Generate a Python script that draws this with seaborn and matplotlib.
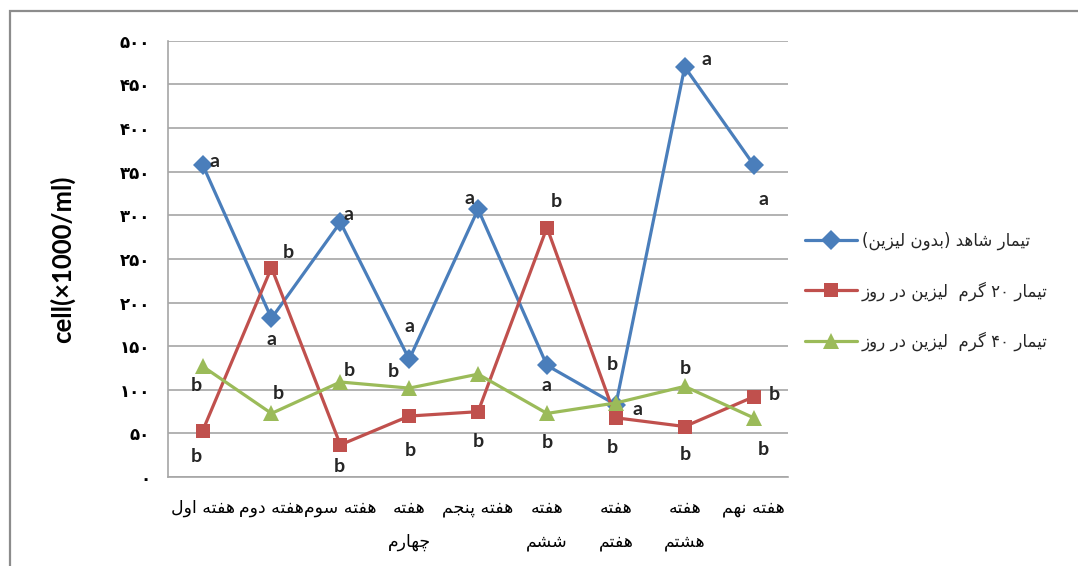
import re
import matplotlib
matplotlib.use('Agg')
import matplotlib.pyplot as plt
import seaborn as sns
import pandas as pd
from matplotlib.patches import Rectangle
from matplotlib.ticker import FixedLocator

# داده ها
weeks = ['هفته اول', 'هفته دوم', 'هفته سوم', 'هفته\nچهارم', 'هفته پنجم',
         'هفته\nششم', 'هفته\nهفتم', 'هفته\nهشتم', 'هفته نهم']
series_names = ['تیمار شاهد (بدون لیزین)',
                'تیمار ۲۰ گرم  لیزین در روز',
                'تیمار ۴۰ گرم  لیزین در روز']
control = [358, 182, 292, 135, 307, 128, 83, 470, 358]
lys20 = [53, 240, 37, 70, 75, 286, 68, 58, 92]
lys40 = [127, 73, 109, 102, 118, 73, 85, 104, 68]
letters_control = ['a', 'a', 'a', 'a', 'a', 'a', 'a', 'a', 'a']
letters_20 = ['b', 'b', 'b', 'b', 'b', 'b', 'b', 'b', 'b']
letters_40 = ['b', 'b', 'b', 'b', '', 'b', 'b', 'b', 'b']
y_ticks = [0, 50, 100, 150, 200, 250, 300, 350, 400, 450, 500]

# جای حروف نسبت به نقطه (پیکسل)
off_control = [(12, 3), (0, -21), (8, 8), (0, 33), (-9, 11), (0, -20), (22, -5), (22, 7), (10, -35)]
off_20 = [(-6, -26), (17, 15), (-1, -22), (1, -34), (0, -30), (9, 26), (-4, -30), (1, -28), (21, 2)]
off_40 = [(-6, -19), (7, 20), (9, 12), (-16, 17), (0, 0), (0, -29), (-4, 38), (1, 18), (10, -32)]

colors = ['#4A7EBB', '#C0504D', '#9BBB59']
markers = ['D', 's', '^']
msizes = [10, 10.5, 11.5]

# شکل دادن حروف فارسی (matplotlib خودش این کار را نمی کند)
DUAL = {
    'ب': (0xFE8F, 0xFE90, 0xFE91, 0xFE92), 'ت': (0xFE95, 0xFE96, 0xFE97, 0xFE98),
    'ج': (0xFE9D, 0xFE9E, 0xFE9F, 0xFEA0), 'س': (0xFEB1, 0xFEB2, 0xFEB3, 0xFEB4),
    'ش': (0xFEB5, 0xFEB6, 0xFEB7, 0xFEB8), 'ف': (0xFED1, 0xFED2, 0xFED3, 0xFED4),
    'ل': (0xFEDD, 0xFEDE, 0xFEDF, 0xFEE0), 'م': (0xFEE1, 0xFEE2, 0xFEE3, 0xFEE4),
    'ن': (0xFEE5, 0xFEE6, 0xFEE7, 0xFEE8), 'ه': (0xFEE9, 0xFEEA, 0xFEEB, 0xFEEC),
    'ی': (0xFBFC, 0xFBFD, 0xFBFE, 0xFBFF), 'پ': (0xFB56, 0xFB57, 0xFB58, 0xFB59),
    'چ': (0xFB7A, 0xFB7B, 0xFB7C, 0xFB7D), 'گ': (0xFB92, 0xFB93, 0xFB94, 0xFB95),
}
RIGHT = {'ا': (0xFE8D, 0xFE8E), 'د': (0xFEA9, 0xFEAA), 'ر': (0xFEAD, 0xFEAE),
         'ز': (0xFEAF, 0xFEB0), 'و': (0xFEED, 0xFEEE)}


def shape(s):
    out = []
    for i, ch in enumerate(s):
        if ch not in DUAL and ch not in RIGHT:
            out.append(ch)
            continue
        prev = s[i - 1] if i > 0 else ''
        nxt = s[i + 1] if i < len(s) - 1 else ''
        jp = prev in DUAL
        jn = ch in DUAL and (nxt in DUAL or nxt in RIGHT)
        f = DUAL.get(ch) or RIGHT[ch]
        if jp and jn:
            out.append(chr(f[3]))
        elif jp:
            out.append(chr(f[1]))
        elif jn:
            out.append(chr(f[2]))
        else:
            out.append(chr(f[0]))
    return ''.join(out)


def fa(text):
    lines = []
    for line in text.split('\n'):
        s = shape(line)[::-1]
        s = s.translate(str.maketrans('()', ')('))
        s = re.sub('[۰-۹0-9]+', lambda m: m.group(0)[::-1], s)
        lines.append(s)
    return '\n'.join(lines)


def fa_digits(n):
    return str(n).translate(str.maketrans('0123456789', '۰۱۲۳۴۵۶۷۸۹'))


sns.set_style('white')
plt.rcParams['font.family'] = ['DejaVu Sans']

pos = list(range(len(weeks)))
df = pd.DataFrame({
    'pos': pos * 3,
    'value': control + lys20 + lys40,
    'series': [series_names[0]] * len(pos) + [series_names[1]] * len(pos) + [series_names[2]] * len(pos),
})

fig = plt.figure(figsize=(10.78, 5.66), dpi=100)
ax = fig.add_axes([0.156, 0.157, 0.575, 0.771])

fig.patches.append(Rectangle((0.0093, -0.1), 1.2, 1.0806, transform=fig.transFigure,
                             fill=False, edgecolor='#8c8c8c', linewidth=1.6))

for i, name in enumerate(series_names):
    sub = df[df['series'] == name]
    sns.lineplot(data=sub, x='pos', y='value', ax=ax, color=colors[i], marker=markers[i],
                 markersize=msizes[i], markeredgewidth=0, linewidth=2.3, label=fa(name),
                 legend=False)

all_letters = [letters_control, letters_20, letters_40]
all_offsets = [off_control, off_20, off_40]
all_values = [control, lys20, lys40]
for vals, lets, offs in zip(all_values, all_letters, all_offsets):
    for x, y, t, o in zip(pos, vals, lets, offs):
        if t:
            ax.annotate(t, (x, y), xytext=o, textcoords='offset pixels', ha='center', va='center',
                        fontsize=14, fontweight='bold', family=['Lato', 'DejaVu Sans'])

ax.set_xlim(-0.5, len(weeks) - 0.5)
ax.set_ylim(0, 500)
ax.set_yticks(y_ticks)
ax.set_yticklabels([fa_digits(v) for v in y_ticks], fontsize=12, fontweight='bold')
ax.set_xticks(pos)
ax.set_xticklabels([fa(w) for w in weeks], fontsize=12.5, linespacing=2.1, color='black')
ax.xaxis.set_minor_locator(FixedLocator([p - 0.5 for p in pos] + [len(weeks) - 0.5]))
ax.tick_params(axis='x', which='major', length=0, pad=16)
ax.tick_params(axis='x', which='minor', length=6, color='#a6a6a6', width=1.2)
ax.tick_params(axis='y', length=6, color='#a6a6a6', width=1.2, pad=7, labelcolor='black')

ax.grid(axis='y', color='#a6a6a6', linewidth=1.2)
ax.set_axisbelow(True)
for side in ['top', 'right']:
    ax.spines[side].set_visible(False)
for side in ['left', 'bottom']:
    ax.spines[side].set_color('#a6a6a6')
    ax.spines[side].set_linewidth(1.2)

ax.set_xlabel('')
ax.set_ylabel('cell(×1000/ml)', fontsize=18.5, fontweight='bold', family=['Lato', 'DejaVu Sans'],
              labelpad=32, color='black')

h, l = ax.get_legend_handles_labels()
fig.legend(h, l, loc='center left', bbox_to_anchor=(0.733, 0.485), frameon=False, fontsize=12,
           handlelength=3.1, labelspacing=1.85, handletextpad=0.3)

fig.savefig('out.png', dpi=100)
